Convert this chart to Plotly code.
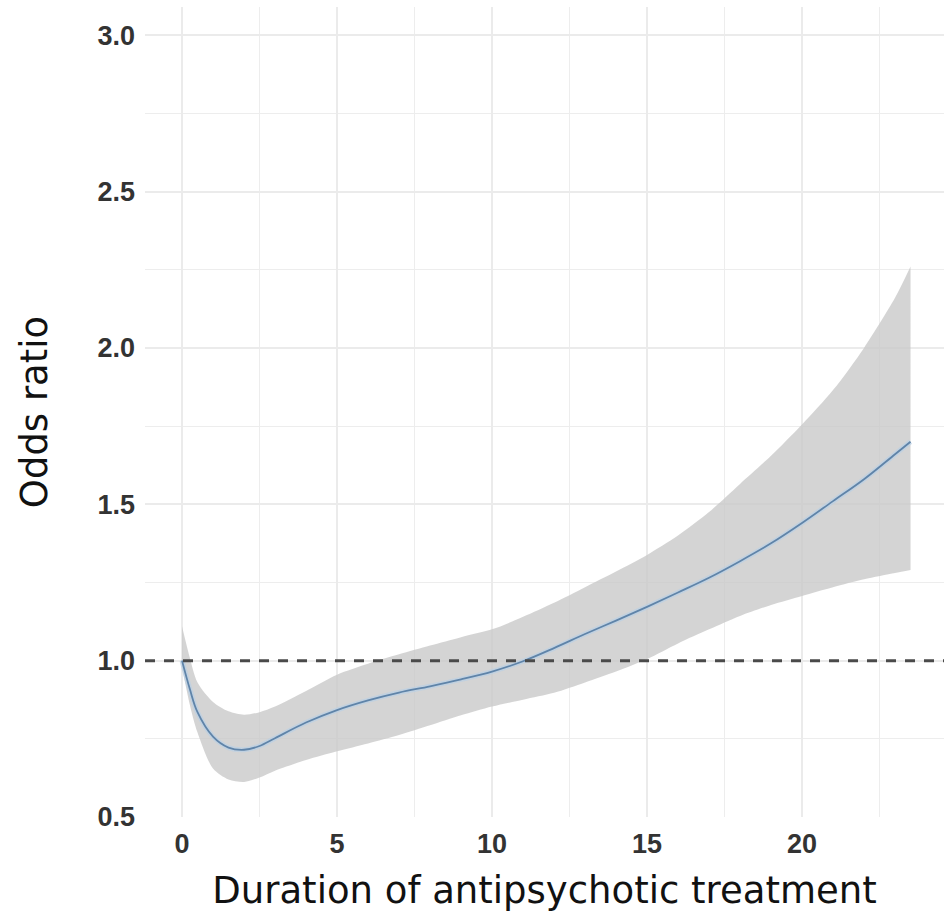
import plotly.graph_objects as go

# Treatment duration (years) and the estimated odds ratio with its confidence band
duration = [0, 0.25, 0.5, 1, 1.5, 2, 2.5, 3, 4, 5, 6, 7, 8, 9, 10, 11, 12,
            13, 14, 15, 16, 17, 18, 19, 20, 21, 22, 23, 23.5]
odds_ratio = [1.00, 0.91, 0.835, 0.757, 0.722, 0.715, 0.727, 0.752, 0.802,
              0.842, 0.873, 0.898, 0.918, 0.94, 0.965, 0.998, 1.04, 1.085,
              1.128, 1.172, 1.218, 1.265, 1.318, 1.375, 1.44, 1.51, 1.58,
              1.66, 1.70]
ci_upper = [1.11, 1.01, 0.93, 0.868, 0.838, 0.827, 0.835, 0.853, 0.903,
            0.955, 0.99, 1.02, 1.048, 1.075, 1.10, 1.14, 1.185, 1.235,
            1.285, 1.338, 1.40, 1.475, 1.565, 1.655, 1.755, 1.865, 2.00,
            2.16, 2.26]
ci_lower = [0.98, 0.86, 0.77, 0.655, 0.62, 0.612, 0.626, 0.648, 0.682,
            0.71, 0.735, 0.762, 0.793, 0.825, 0.853, 0.875, 0.897, 0.93,
            0.965, 1.005, 1.055, 1.10, 1.143, 1.178, 1.207, 1.235, 1.26,
            1.28, 1.29]

x_ticks = [0, 5, 10, 15, 20]
y_ticks = [0.5, 1.0, 1.5, 2.0, 2.5, 3.0]
reference_or = 1.0

fig = go.Figure()

# Confidence band: lower edge, then upper edge filled down to it
fig.add_trace(go.Scatter(
    x=duration, y=ci_lower, mode="lines",
    line=dict(width=0, shape="spline", smoothing=0.8),
    hoverinfo="skip", showlegend=False,
))
fig.add_trace(go.Scatter(
    x=duration, y=ci_upper, mode="lines",
    line=dict(width=0, shape="spline", smoothing=0.8),
    fill="tonexty", fillcolor="rgba(200,200,200,0.78)",
    hoverinfo="skip", showlegend=False,
))

# Soft halo under the estimate line
fig.add_trace(go.Scatter(
    x=duration, y=odds_ratio, mode="lines",
    line=dict(color="rgba(185,208,230,0.7)", width=5, shape="spline"),
    hoverinfo="skip", showlegend=False,
))

# Estimated odds ratio
fig.add_trace(go.Scatter(
    x=duration, y=odds_ratio, mode="lines",
    line=dict(color="#5f84a9", width=1.8, shape="spline"),
    showlegend=False,
))

# Reference line at OR = 1
fig.add_hline(y=reference_or, line=dict(color="#4a4a4a", width=3, dash="10px,9px"))

tick_font = dict(family="Liberation Sans, Arial, sans-serif", size=27,
                 color="#333333", weight="bold")
title_font = dict(family="DejaVu Sans, sans-serif", size=37, color="#111111")

fig.update_layout(
    width=944, height=915,
    margin=dict(l=145, r=0, t=7, b=98),
    paper_bgcolor="white",
    plot_bgcolor="white",
    showlegend=False,
)

fig.update_xaxes(
    range=[-1.194, 24.58],
    tickvals=x_ticks,
    ticktext=[str(v) for v in x_ticks],
    tickfont=tick_font,
    ticklabelstandoff=8,
    showgrid=True, gridcolor="#ebebeb", gridwidth=1.6,
    minor=dict(dtick=2.5, tick0=0, showgrid=True, gridcolor="#ededed", gridwidth=1.4),
    zeroline=False, showline=False, ticks="",
    title=dict(text="Duration of antipsychotic treatment", font=title_font, standoff=19),
    automargin=False,
)

fig.update_yaxes(
    range=[0.5, 3.09],
    tickvals=y_ticks,
    ticktext=[f"{v:.1f}" for v in y_ticks],
    tickfont=tick_font,
    ticklabelstandoff=9,
    showgrid=True, gridcolor="#ebebeb", gridwidth=1.6,
    minor=dict(dtick=0.25, tick0=0.5, showgrid=True, gridcolor="#ededed", gridwidth=1.4),
    zeroline=False, showline=False, ticks="",
    title=dict(text="Odds ratio", font=title_font, standoff=38),
    automargin=False,
)

fig.write_html("out.html")
